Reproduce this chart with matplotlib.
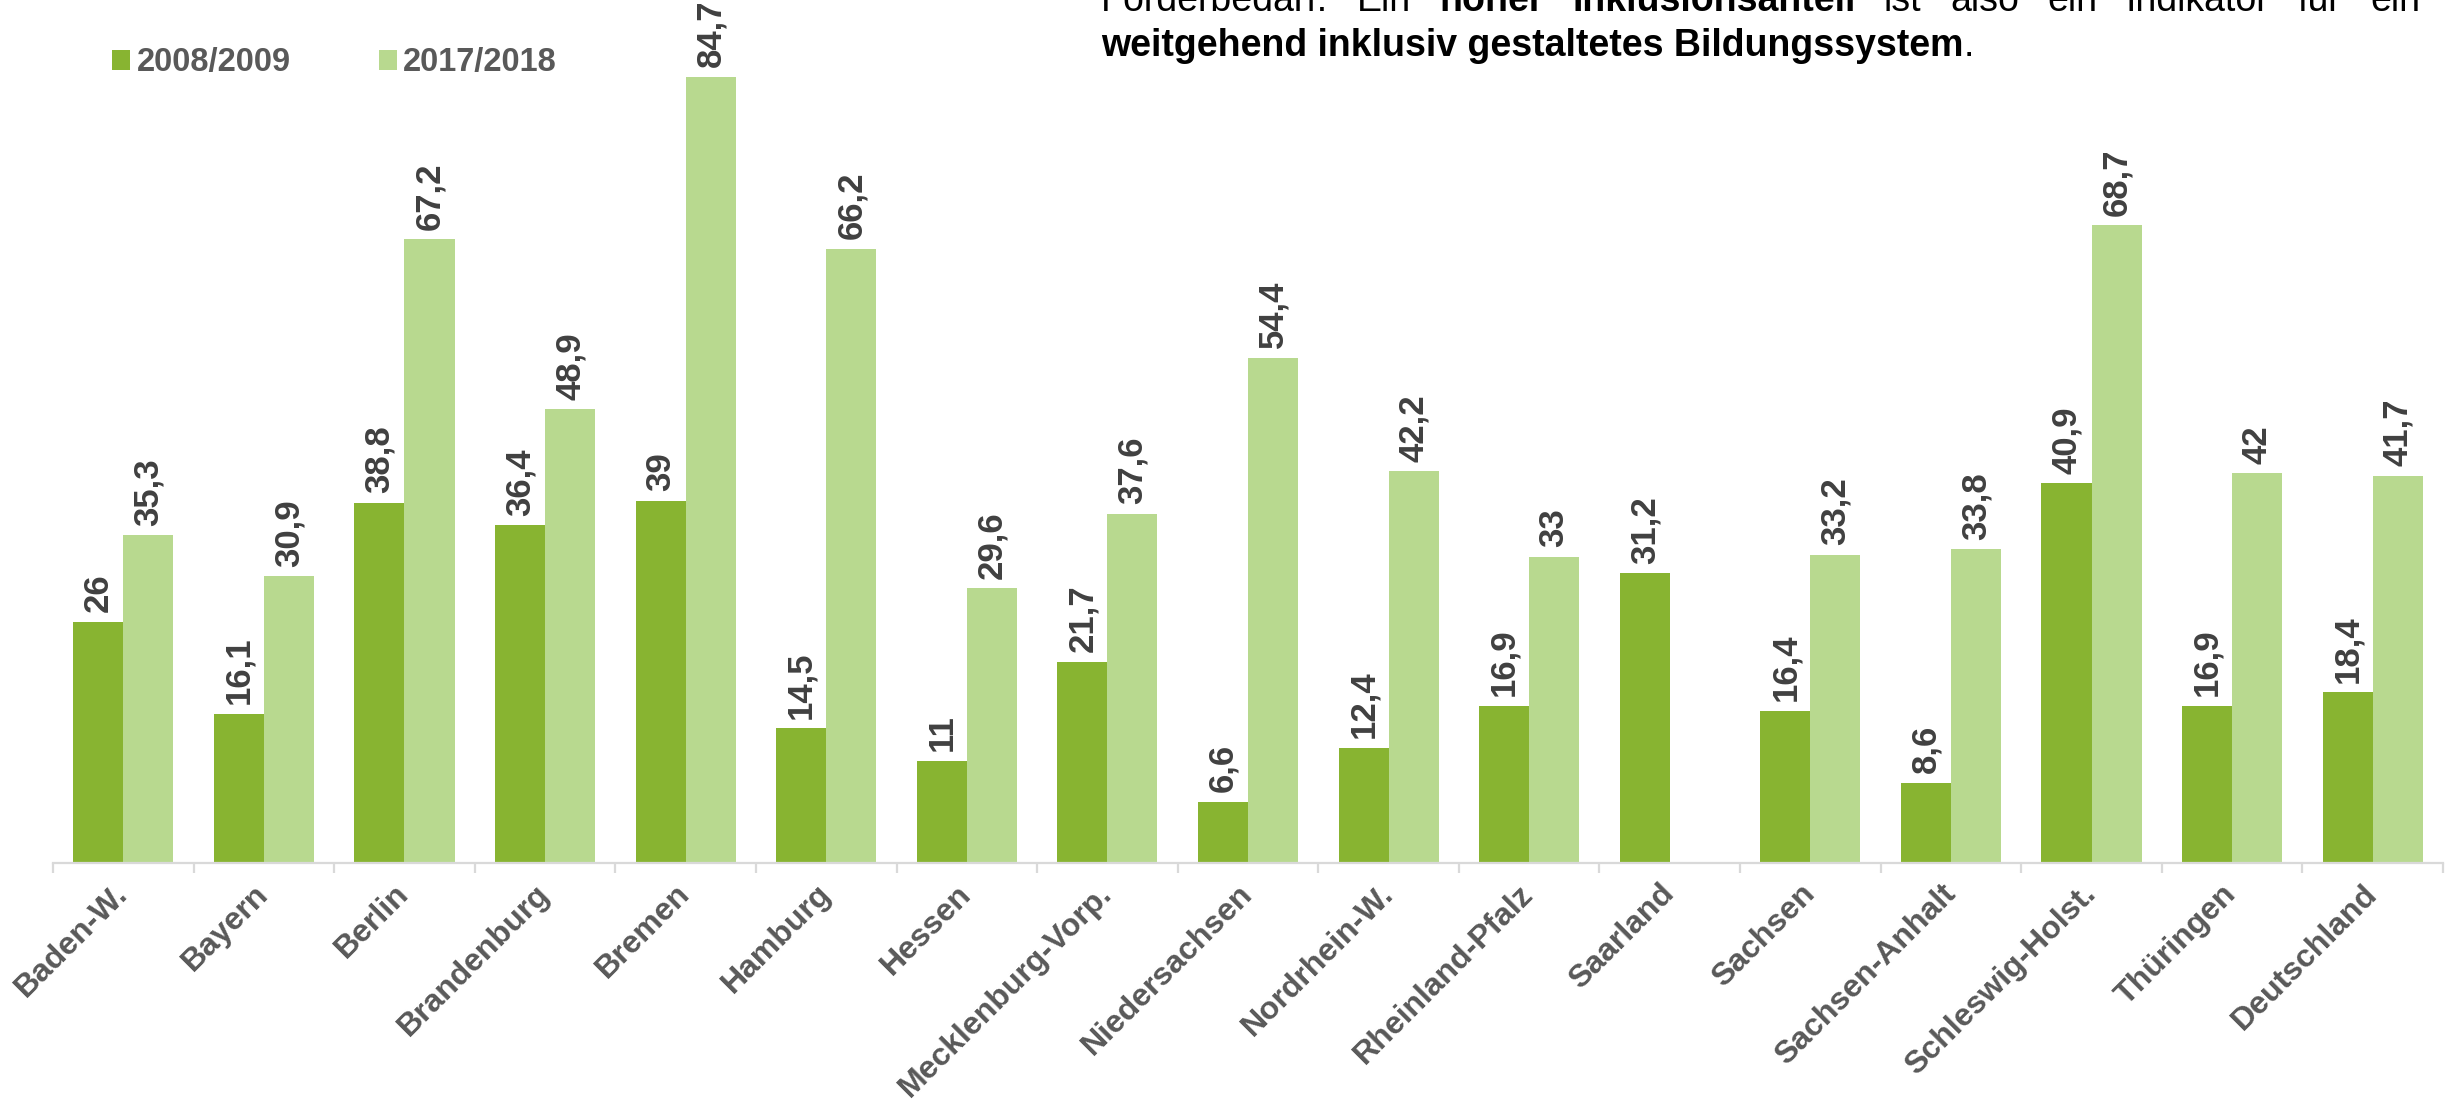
import numpy as np
import matplotlib.pyplot as plt
from matplotlib.ticker import FixedLocator

plt.rcParams['font.family'] = ['Liberation Sans', 'DejaVu Sans']

# ==== DATA ==================================================

laender = [
    "Baden-W.", "Bayern", "Berlin", "Brandenburg", "Bremen", "Hamburg",
    "Hessen", "Mecklenburg-Vorp.", "Niedersachsen", "Nordrhein-W.",
    "Rheinland-Pfalz", "Saarland", "Sachsen", "Sachsen-Anhalt",
    "Schleswig-Holst.", "Thüringen", "Deutschland",
]
anteil_2008 = [26, 16.1, 38.8, 36.4, 39, 14.5, 11, 21.7, 6.6, 12.4,
               16.9, 31.2, 16.4, 8.6, 40.9, 16.9, 18.4]
anteil_2017 = [35.3, 30.9, 67.2, 48.9, 84.7, 66.2, 29.6, 37.6, 54.4, 42.2,
               33, np.nan, 33.2, 33.8, 68.7, 42, 41.7]
serien = ["2008/2009", "2017/2018"]

# ============================================================

dunkel = "#88B431"
hell = "#B8D98F"
grau_achse = "#D9D9D9"
grau_text = "#595959"

W, H = 2446, 1104
fig = plt.figure(figsize=(W / 100, H / 100), dpi=100)
ax = fig.add_axes([53 / W, 1 - 863 / H, 2390 / W, 863 / H])

x = np.arange(len(laender))
bw = 0.356
b1 = ax.bar(x - bw / 2, anteil_2008, bw, color=dunkel, label=serien[0])
b2 = ax.bar(x + bw / 2, anteil_2017, bw, color=hell, label=serien[1])


def fmt(v):
    return f"{v:g}".replace(".", ",")


for bars, werte in [(b1, anteil_2008), (b2, anteil_2017)]:
    for rect, v in zip(bars, werte):
        if np.isnan(v):
            continue
        ax.annotate(fmt(v), (rect.get_x() + rect.get_width() / 2, v),
                    xytext=(0, 7), textcoords="offset points",
                    ha="center", va="bottom", rotation=90,
                    fontsize=25, fontweight="bold", color="#404040")

ax.set_xlim(-0.5, len(laender) - 0.5)
ax.set_ylim(0, 93.0)

for s in ["top", "left", "right"]:
    ax.spines[s].set_visible(False)
ax.spines["bottom"].set_color(grau_achse)
ax.spines["bottom"].set_linewidth(1.6)
ax.set_yticks([])

ax.set_xticks(x)
ax.set_xticklabels(laender, rotation=45, ha="right", va="center",
                   rotation_mode="anchor", fontsize=23, fontweight="bold",
                   color=grau_text)
ax.tick_params(axis="x", which="major", length=0, pad=19)
ax.xaxis.set_minor_locator(FixedLocator(np.arange(-0.5, len(laender), 1)))
ax.tick_params(axis="x", which="minor", length=7, width=1.6,
               color=grau_achse, direction="out")

fig.legend(handles=[b1, b2], labels=serien, loc="center left",
           bbox_to_anchor=(112 / W, 1 - 63 / H), ncol=2, frameon=False,
           borderpad=0, borderaxespad=0, handlelength=0.55,
           handleheight=0.55, handletextpad=0.2, columnspacing=2.7,
           prop={"size": 23.5, "weight": "bold"}, labelcolor=grau_text)

# Textblock oben rechts, erste Zeile im Blocksatz
x0, x1 = 1101 / W, 2420 / W
zeile1 = [("Förderbedarf.", "normal"), ("Ein", "normal"), ("hoher", "bold"),
          ("Inklusionsanteil", "bold"), ("ist", "normal"), ("also", "normal"),
          ("ein", "normal"), ("Indikator", "normal"), ("für", "normal"),
          ("ein", "normal")]
y1 = 1 - 11 / H
y2 = 1 - 56 / H

renderer = fig.canvas.get_renderer()
woerter = [fig.text(0, y1, w, fontsize=27, fontweight=fw, color="black",
                    va="baseline", ha="left") for w, fw in zeile1]
breiten = [t.get_window_extent(renderer).width / W for t in woerter]
luecke = (x1 - x0 - sum(breiten)) / (len(woerter) - 1)
pos = x0
for t, b in zip(woerter, breiten):
    t.set_x(pos)
    pos += b + luecke

t2 = fig.text(x0, y2, "weitgehend inklusiv gestaltetes Bildungssystem",
              fontsize=27, fontweight="bold", color="black", va="baseline")
b = t2.get_window_extent(renderer).width / W
fig.text(x0 + b, y2, ".", fontsize=27, color="black", va="baseline")

fig.savefig("out.png", dpi=100)
